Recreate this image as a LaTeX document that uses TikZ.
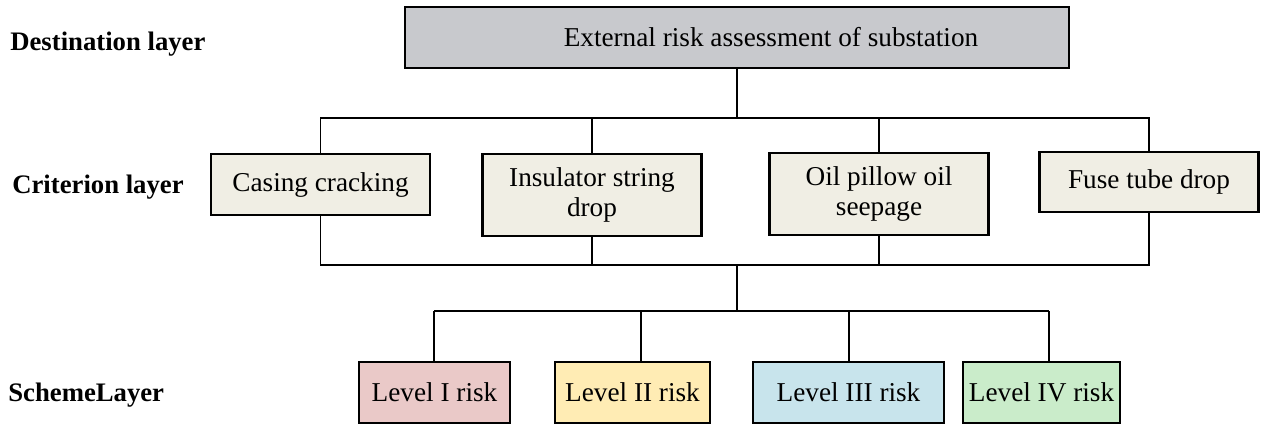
\documentclass[tikz,border=0pt]{standalone}
\usepackage{fontspec}
\setmainfont{Liberation Serif}
\definecolor{topgray}{RGB}{200,201,205}
\definecolor{critfill}{RGB}{240,238,228}
\definecolor{lvlpink}{RGB}{234,201,200}
\definecolor{lvlyellow}{RGB}{255,236,180}
\definecolor{lvlblue}{RGB}{200,228,236}
\definecolor{lvlgreen}{RGB}{202,236,202}
\tikzset{
  box/.style={draw, line width=1.3pt, inner sep=0pt, align=center,
    font=\fontsize{15.5}{17.5}\selectfont},
  critbox/.style={box, fill=critfill, minimum width=4.38cm},
  lvlbox/.style={box, minimum height=1.22cm},
  layername/.style={anchor=west, inner sep=0pt, font=\fontsize{15.2}{18}\selectfont\bfseries},
  link/.style={line width=1.1pt}
}
\begin{document}
\begin{tikzpicture}[x=0.02cm, y=-0.02cm]
  \useasboundingbox (0,0) rectangle (1261,425);
  % Noms des couches
  \node[layername] (dest) at (10,44) {Destination layer};
  \node[layername] (crit) at (12,187) {Criterion layer};
  \node[layername] (sch) at (8,395) {SchemeLayer};
  % Couche objectif
  \node[box, fill=topgray, minimum width=13.28cm, minimum height=1.22cm] (goal) at (737,37.5)
    {\hspace*{1.36cm}External risk assessment of substation};
  % Couche critere
  \node[critbox, minimum height=1.22cm] (c1) at (320.5,184.5) {Casing cracking};
  \node[critbox, minimum height=1.64cm] (c2) at (592,195) {Insulator string\\drop};
  \node[critbox, minimum height=1.64cm] (c3) at (879,194) {Oil pillow oil\\seepage};
  \node[critbox, minimum height=1.2cm] (c4) at (1149,182) {Fuse tube drop};
  % Couche solution
  \node[lvlbox, fill=lvlpink, minimum width=3.02cm] (l1) at (434.5,392.5) {Level I risk};
  \node[lvlbox, fill=lvlyellow, minimum width=3.1cm] (l2) at (632.5,392.5) {Level II risk};
  \node[lvlbox, fill=lvlblue, minimum width=3.82cm] (l3) at (848.5,392.5) {Level III risk};
  \node[lvlbox, fill=lvlgreen, minimum width=3.14cm] (l4) at (1041.5,392.5) {Level IV risk};
  % Points de jonction
  \coordinate (j1) at (737,118);
  \coordinate (j2) at (737,265);
  \coordinate (j3) at (737,311);
  \coordinate (k1) at (434,311);
  \coordinate (k2) at (641,311);
  \coordinate (k3) at (849,311);
  \coordinate (k4) at (1049,311);
  % Liaisons objectif -> criteres
  \draw[link] (goal) -- (j1);
  \draw[link] (c1.north) |- (j1) -| (c4.north);
  \draw[link] (c2.north) -- (c2.north |- j1);
  \draw[link] (c3.north) -- (c3.north |- j1);
  % Liaisons criteres -> niveaux
  \draw[link] (c1.south) |- (j2) -| (c4.south);
  \draw[link] (c2.south) -- (c2.south |- j2);
  \draw[link] (c3.south) -- (c3.south |- j2);
  \draw[link] (j2) -- (j3);
  \draw[link] (k1) -- (k4);
  \draw[link] (k1) -- (k1 |- l1.north);
  \draw[link] (k2) -- (k2 |- l2.north);
  \draw[link] (k3) -- (k3 |- l3.north);
  \draw[link] (k4) -- (k4 |- l4.north);
\end{tikzpicture}
\end{document}
